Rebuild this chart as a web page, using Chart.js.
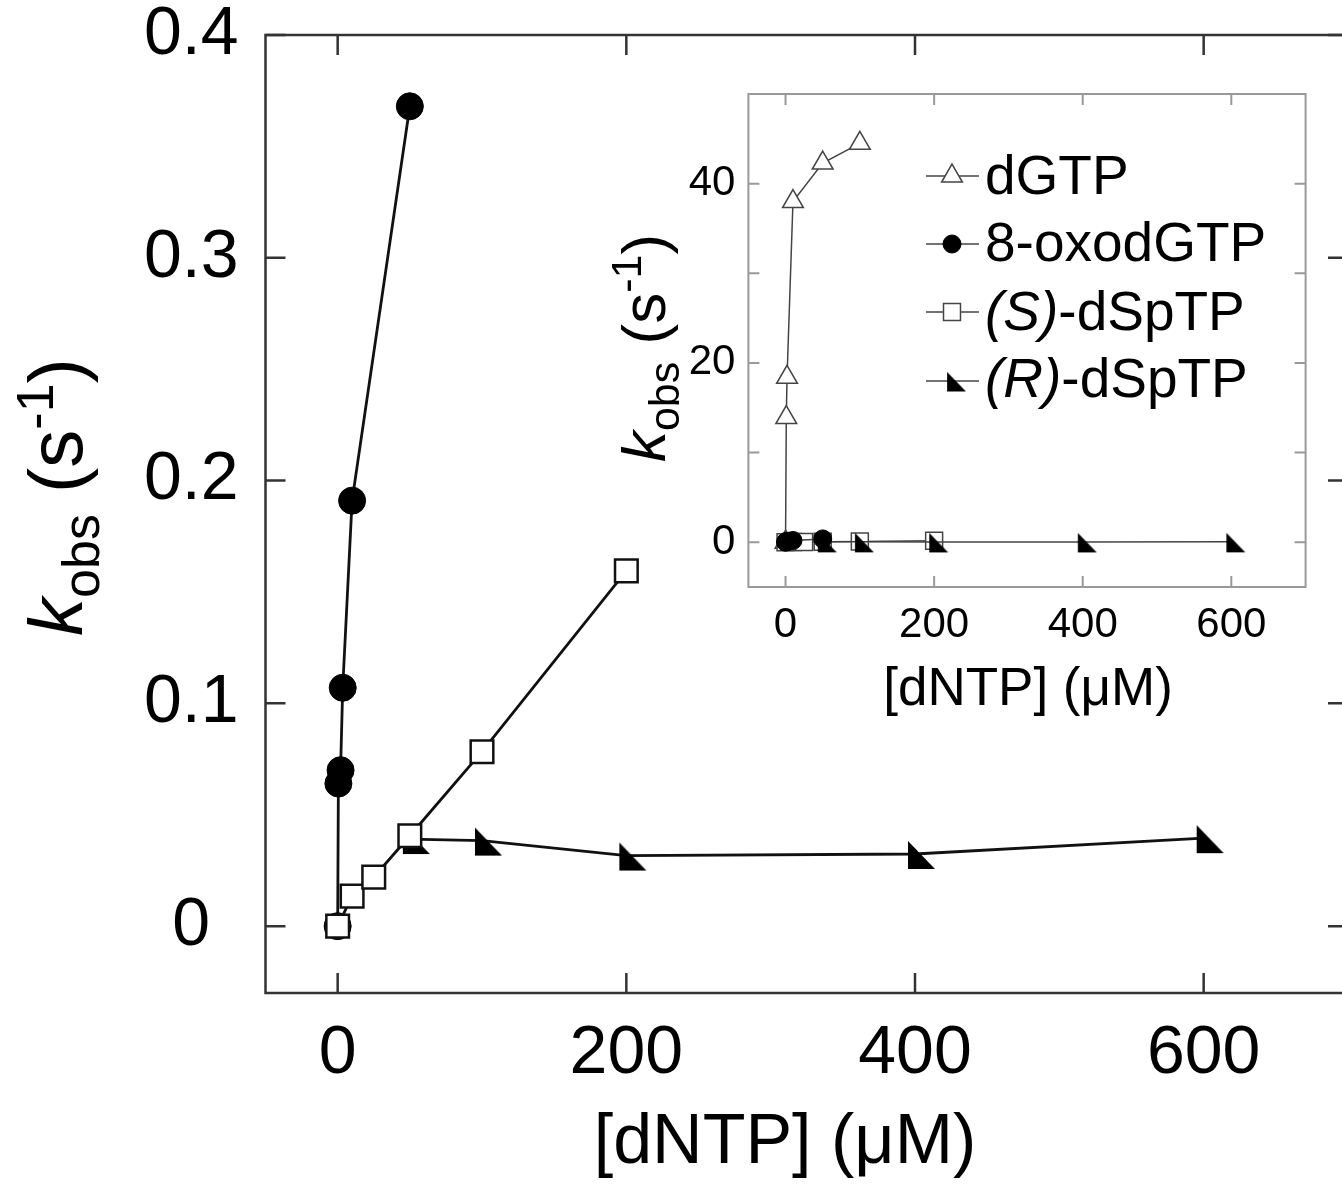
<!DOCTYPE html>
<html><head><meta charset="utf-8">
<script src="https://cdn.jsdelivr.net/npm/chart.js@4.4.0/dist/chart.umd.min.js"></script>
<style>
html,body{margin:0;padding:0;background:#fff;overflow:hidden;width:1342px;height:1186px;}
#main{position:absolute;left:0;top:0;}
#inset{position:absolute;left:600px;top:70px;}
</style></head><body>
<canvas id="main" width="1372" height="1186"></canvas>
<canvas id="inset" width="740" height="670"></canvas>
<script>
// ---------------- data ----------------
const seriesNames = ['dGTP', '8-oxodGTP', '(S)-dSpTP', '(R)-dSpTP'];
const dGTP_x = [0, 1, 2, 10, 50, 100];
const dGTP_y = [0, 13.9, 18.4, 38.0, 42.3, 44.5];
const oxo_x = [0, 0.5, 2, 3.5, 10, 50];
const oxo_y = [0, 0.064, 0.070, 0.107, 0.191, 0.368];
const S_x = [0, 10, 25, 50, 100, 200];
const S_y = [0, 0.0135, 0.022, 0.0406, 0.0783, 0.1595];
const R_x = [50, 100, 200, 400, 600];
const R_y = [0.0391, 0.0384, 0.0317, 0.0324, 0.0395];
const mainXTicks = [0, 200, 400, 600];
const mainXTickLabels = ['0', '200', '400', '600'];
const mainYTicks = [0, 0.1, 0.2, 0.3, 0.4];
const mainYTickLabels = ['0', '0.1', '0.2', '0.3', '0.4'];
const insetXTicks = [0, 200, 400, 600];
const insetXTickLabels = ['0', '200', '400', '600'];
const insetYTicks = [0, 10, 20, 30, 40];
const insetYTickLabels = ['0', '', '20', '', '40'];
const xTitle = '[dNTP] (\u03BCM)';

// ---------------- helpers ----------------
const FAM = "'Liberation Sans', Arial, Helvetica, sans-serif";
const pts = (xs, ys) => xs.map((x, i) => ({x: x, y: ys[i]}));

function makeTri(scale, color) {
  // right triangle, right angle bottom-left; drawn offset as in the original symbol
  const W = Math.ceil(42 * scale), H = Math.ceil(32 * scale);
  const c = document.createElement('canvas');
  c.width = W; c.height = H;
  const g = c.getContext('2d');
  const cx = W / 2, cy = H / 2;
  g.fillStyle = color;
  g.beginPath();
  g.moveTo(cx - 7 * scale, cy - 13 * scale);
  g.lineTo(cx - 7 * scale, cy + 15 * scale);
  g.lineTo(cx + 20 * scale, cy + 15 * scale);
  g.closePath();
  g.fill();
  return c;
}
const triMain = makeTri(1, '#000');
const triInset = makeTri(0.7, '#000');

function fixBox(size, horizontal) {
  return function (s) {
    if (horizontal) s.height = size; else s.width = size;
    s.paddingTop = 0; s.paddingBottom = 0; s.paddingLeft = 0; s.paddingRight = 0;
  };
}

const framePlugin = {
  id: 'frame',
  afterDatasetsDraw(chart, args, o) {
    const {ctx, chartArea: {left, right, top, bottom}, scales: {x, y}} = chart;
    ctx.save();
    ctx.strokeStyle = o.color;
    ctx.lineWidth = o.width;
    ctx.strokeRect(left, top, right - left, bottom - top);
    ctx.lineWidth = o.tickWidth;
    ctx.beginPath();
    for (const v of o.xMarks) {
      const px = x.getPixelForValue(v);
      ctx.moveTo(px, bottom); ctx.lineTo(px, bottom - o.len);
      ctx.moveTo(px, top); ctx.lineTo(px, top + o.len);
    }
    for (const v of o.yMarks) {
      const py = y.getPixelForValue(v);
      ctx.moveTo(left, py); ctx.lineTo(left + o.len, py);
      ctx.moveTo(right, py); ctx.lineTo(right - o.len, py);
    }
    ctx.stroke();
    ctx.restore();
  }
};

function drawKobs(ctx, cx, cy, base, sub, color) {
  ctx.save();
  ctx.translate(cx, cy);
  ctx.rotate(-Math.PI / 2);
  ctx.fillStyle = color;
  ctx.textBaseline = 'alphabetic';
  ctx.textAlign = 'left';
  const parts = [
    {t: 'k', f: 'italic ' + base + 'px ' + FAM, dy: 0},
    {t: 'obs', f: sub + 'px ' + FAM, dy: base * 0.22},
    {t: ' (s', f: base + 'px ' + FAM, dy: 0},
    {t: '-1', f: sub + 'px ' + FAM, dy: -base * 0.38},
    {t: ')', f: base + 'px ' + FAM, dy: 0}
  ];
  let total = 0;
  for (const p of parts) { ctx.font = p.f; p.w = ctx.measureText(p.t).width; total += p.w; }
  let xx = -total / 2;
  for (const p of parts) { ctx.font = p.f; ctx.fillText(p.t, xx, p.dy); xx += p.w; }
  ctx.restore();
}

const titlePlugin = {
  id: 'titles',
  afterDraw(chart, args, o) {
    const ctx = chart.ctx;
    drawKobs(ctx, o.yX, o.yY, o.yBase, o.ySub, '#000');
    ctx.save();
    ctx.fillStyle = '#000';
    ctx.font = o.xSize + 'px ' + FAM;
    ctx.textAlign = 'center';
    ctx.textBaseline = 'alphabetic';
    ctx.fillText(xTitle, o.xX, o.xY);
    ctx.restore();
  }
};

const legendPlugin = {
  id: 'insetLegend',
  afterDraw(chart, args, o) {
    const ctx = chart.ctx;
    const H = Chart.helpers;
    chart.data.datasets.forEach((ds, i) => {
      const my = o.markerY[i];
      ctx.save();
      ctx.strokeStyle = ds.borderColor;
      ctx.lineWidth = ds.borderWidth;
      ctx.beginPath();
      ctx.moveTo(o.x0, my); ctx.lineTo(o.x1, my);
      ctx.stroke();
      ctx.fillStyle = ds.pointBackgroundColor;
      ctx.strokeStyle = ds.pointBorderColor;
      ctx.lineWidth = ds.pointBorderWidth;
      H.drawPoint(ctx, {pointStyle: ds.pointStyle, radius: ds.pointRadius, borderWidth: ds.pointBorderWidth, rotation: 0}, o.mx, my);
      ctx.restore();
      // text
      ctx.save();
      ctx.fillStyle = '#000';
      ctx.textBaseline = 'middle';
      ctx.textAlign = 'left';
      const name = ds.label;
      let tx = o.tx;
      const ty = o.textY[i];
      const m = name.match(/^(\([A-Z]\))(.*)$/);
      if (m) {
        ctx.font = 'italic ' + o.size + 'px ' + FAM;
        ctx.fillText(m[1], tx, ty);
        tx += ctx.measureText(m[1]).width;
        ctx.font = o.size + 'px ' + FAM;
        ctx.fillText(m[2], tx, ty);
      } else {
        ctx.font = o.size + 'px ' + FAM;
        ctx.fillText(name, tx, ty);
      }
      ctx.restore();
    });
  }
};

// ---------------- main chart ----------------
const ML = '#111';
new Chart(document.getElementById('main'), {
  type: 'scatter',
  data: {
    datasets: [
      {label: seriesNames[2], data: pts(S_x, S_y), order: 0, showLine: true,
       borderColor: ML, borderWidth: 2.8, pointStyle: 'rect', pointRadius: 16,
       pointBackgroundColor: '#fff', pointBorderColor: ML, pointBorderWidth: 2.5},
      {label: seriesNames[3], data: pts(R_x, R_y), order: 1, showLine: true,
       borderColor: ML, borderWidth: 2.8, pointStyle: triMain, pointRadius: 16,
       pointBackgroundColor: '#000', pointBorderColor: '#000', pointBorderWidth: 0},
      {label: seriesNames[1], data: pts(oxo_x, oxo_y), order: 2, showLine: true,
       borderColor: ML, borderWidth: 2.8, pointStyle: 'circle', pointRadius: 13.5,
       pointBackgroundColor: '#000', pointBorderColor: '#000', pointBorderWidth: 1}
    ]
  },
  options: {
    responsive: false, animation: false, devicePixelRatio: 1,
    layout: {padding: {left: 0, top: 35, right: 24, bottom: 0}},
    plugins: {
      legend: {display: false}, tooltip: {enabled: false},
      frame: {color: '#333', width: 2.5, tickWidth: 2.5, len: 20, xMarks: mainXTicks, yMarks: mainYTicks},
      titles: {yX: 82, yY: 497, yBase: 76, ySub: 52, xX: 785, xY: 1163, xSize: 70}
    },
    scales: {
      x: {
        type: 'linear', min: -50, max: 700,
        afterFit: fixBox(193, true),
        afterBuildTicks(s) { s.ticks = mainXTicks.map(v => ({value: v})); },
        grid: {display: false, drawTicks: false}, border: {display: false},
        ticks: {font: {family: FAM, size: 68}, color: '#000', padding: 20, maxRotation: 0, minRotation: 0, autoSkip: false,
                callback: (v, i) => mainXTickLabels[i]}
      },
      y: {
        type: 'linear', min: -0.03, max: 0.4,
        afterFit: fixBox(265.5, false),
        afterBuildTicks(s) { s.ticks = mainYTicks.map(v => ({value: v})); },
        grid: {display: false, drawTicks: false}, border: {display: false},
        ticks: {font: {family: FAM, size: 68}, color: '#000', padding: 27, crossAlign: 'center', autoSkip: false,
                callback: (v, i) => mainYTickLabels[i]}
      }
    }
  },
  plugins: [framePlugin, titlePlugin]
});

// ---------------- inset chart ----------------
const IL = '#444';
new Chart(document.getElementById('inset'), {
  type: 'scatter',
  data: {
    datasets: [
      {label: seriesNames[0], data: pts(dGTP_x, dGTP_y), order: 3, showLine: true,
       borderColor: IL, borderWidth: 1.5, pointStyle: 'triangle', pointRadius: 12,
       pointBackgroundColor: '#fff', pointBorderColor: IL, pointBorderWidth: 1.5},
      {label: seriesNames[1], data: pts(oxo_x, oxo_y), order: 0, showLine: true,
       borderColor: IL, borderWidth: 1.5, pointStyle: 'circle', pointRadius: 9,
       pointBackgroundColor: '#000', pointBorderColor: '#000', pointBorderWidth: 1},
      {label: seriesNames[2], data: pts(S_x, S_y), order: 2, showLine: true,
       borderColor: IL, borderWidth: 1.5, pointStyle: 'rect', pointRadius: 12,
       pointBackgroundColor: '#fff', pointBorderColor: IL, pointBorderWidth: 1.5},
      {label: seriesNames[3], data: pts(R_x, R_y), order: 1, showLine: true,
       borderColor: IL, borderWidth: 1.5, pointStyle: triInset, pointRadius: 12,
       pointBackgroundColor: '#000', pointBorderColor: '#000', pointBorderWidth: 0}
    ]
  },
  options: {
    responsive: false, animation: false, devicePixelRatio: 1,
    layout: {padding: {left: 0, top: 24, right: 34.4, bottom: 0}},
    plugins: {
      legend: {display: false}, tooltip: {enabled: false},
      frame: {color: '#999', width: 2, tickWidth: 2, len: 11, xMarks: insetXTicks, yMarks: insetYTicks},
      titles: {yX: 65, yY: 278, yBase: 62, ySub: 43, xX: 428, xY: 635, xSize: 53},
      insetLegend: {x0: 326, x1: 379, mx: 352, tx: 385, size: 55,
                    markerY: [106, 174, 242, 311], textY: [109, 176, 245, 312]}
    },
    scales: {
      x: {
        type: 'linear', min: -50, max: 700,
        afterFit: fixBox(153, true),
        afterBuildTicks(s) { s.ticks = insetXTicks.map(v => ({value: v})); },
        grid: {display: false, drawTicks: false}, border: {display: false},
        ticks: {font: {family: FAM, size: 42}, color: '#000', padding: 13, maxRotation: 0, minRotation: 0, autoSkip: false,
                callback: (v, i) => insetXTickLabels[i]}
      },
      y: {
        type: 'linear', min: -5, max: 50,
        afterFit: fixBox(148.4, false),
        afterBuildTicks(s) { s.ticks = insetYTicks.map(v => ({value: v})); },
        grid: {display: false, drawTicks: false}, border: {display: false},
        ticks: {font: {family: FAM, size: 42}, color: '#000', padding: 13, crossAlign: 'near', autoSkip: false,
                callback: (v, i) => insetYTickLabels[i]}
      }
    }
  },
  plugins: [framePlugin, titlePlugin, legendPlugin]
});
</script>
</body></html>
